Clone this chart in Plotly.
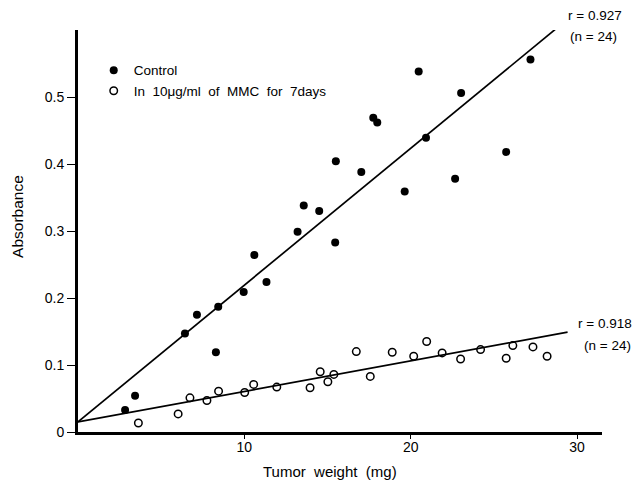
import plotly.graph_objects as go

# Control (filled circles)
control_x = [2.83, 3.43, 6.43, 7.15, 8.43, 8.29, 9.96, 10.6, 11.33, 13.2, 13.57, 14.5,
             15.46, 15.5, 17.03, 17.75, 17.99, 19.64, 20.48, 20.92, 22.67, 23.03, 25.74, 27.2]
control_y = [0.033, 0.054, 0.147, 0.175, 0.187, 0.119, 0.209, 0.264, 0.224, 0.299, 0.338, 0.330,
             0.283, 0.404, 0.388, 0.469, 0.462, 0.359, 0.538, 0.439, 0.378, 0.506, 0.418, 0.556]

# MMC (open circles)
mmc_x = [3.63, 6.02, 6.73, 7.75, 8.45, 10.02, 10.56, 11.95, 13.95, 14.56, 15.02, 15.38,
         16.73, 17.57, 18.89, 20.18, 20.96, 21.89, 23.0, 24.2, 25.74, 26.14, 27.35, 28.2]
mmc_y = [0.0135, 0.027, 0.051, 0.047, 0.061, 0.059, 0.071, 0.067, 0.066, 0.090, 0.075, 0.086,
         0.120, 0.083, 0.119, 0.113, 0.135, 0.118, 0.109, 0.123, 0.110, 0.129, 0.127, 0.113]

# Regression line endpoints
control_fit_x = [0.0, 28.84]
control_fit_y = [0.015, 0.604]
mmc_fit_x = [0.0, 29.43]
mmc_fit_y = [0.015, 0.149]

x_ticks = [10, 20, 30]
y_ticks = [0, 0.1, 0.2, 0.3, 0.4, 0.5]
y_tick_text = ["0", "0.1", "0.2", "0.3", "0.4", "0.5"]

FONT = "Liberation Sans, Arial, sans-serif"

fig = go.Figure()
fig.add_trace(go.Scatter(x=control_fit_x, y=control_fit_y, mode="lines",
                         line=dict(color="black", width=1.7), showlegend=False,
                         cliponaxis=False))
fig.add_trace(go.Scatter(x=mmc_fit_x, y=mmc_fit_y, mode="lines",
                         line=dict(color="black", width=1.7), showlegend=False,
                         cliponaxis=False))
fig.add_trace(go.Scatter(x=control_x, y=control_y, mode="markers", name="Control",
                         marker=dict(symbol="circle", size=8, color="black"),
                         cliponaxis=False))
fig.add_trace(go.Scatter(x=mmc_x, y=mmc_y, mode="markers",
                         name="In  10\u03bcg/ml  of  MMC  for  7days",
                         marker=dict(symbol="circle-open", size=7.5, color="black",
                                     line=dict(width=1.5)),
                         cliponaxis=False))

annots = [
    dict(text="r = 0.927", x=0.931, y=1.037, xanchor="left", yanchor="middle"),
    dict(text="(n = 24)", x=0.936, y=0.983, xanchor="left", yanchor="middle"),
    dict(text="r = 0.918", x=0.95, y=0.2687, xanchor="left", yanchor="middle"),
    dict(text="(n = 24)", x=0.962, y=0.214, xanchor="left", yanchor="middle"),
]
for a in annots:
    fig.add_annotation(xref="paper", yref="paper", showarrow=False,
                       font=dict(family=FONT, size=13.5, color="black"), **a)

# axis titles
fig.add_annotation(xref="paper", yref="paper", showarrow=False, text="Tumor  weight  (mg)",
                   x=0.481, y=-0.0995, xanchor="center", yanchor="middle",
                   font=dict(family=FONT, size=15, color="black"))
fig.add_annotation(xref="paper", yref="paper", showarrow=False, text="Absorbance",
                   x=-0.1145, y=0.535, xanchor="center", yanchor="middle", textangle=-90,
                   font=dict(family=FONT, size=15.5, color="black"))

fig.update_layout(
    width=637, height=486,
    margin=dict(l=78, r=35, t=30, b=54),
    paper_bgcolor="white", plot_bgcolor="white",
    font=dict(family=FONT, size=13, color="black"),
    legend=dict(x=0.03, y=0.938, xanchor="left", yanchor="top",
                bgcolor="rgba(0,0,0,0)", font=dict(size=13.5),
                itemwidth=30, tracegroupgap=0),
    xaxis=dict(range=[0, 31.5], tickvals=x_ticks, showgrid=False, zeroline=False,
               showline=True, linecolor="black", linewidth=3,
               ticks="outside", ticklen=4, tickwidth=1.2, tickcolor="black",
               tickfont=dict(size=14), ticklabelstandoff=-4),
    yaxis=dict(range=[0, 0.6], tickvals=y_ticks, ticktext=y_tick_text,
               showgrid=False, zeroline=False,
               showline=True, linecolor="black", linewidth=3,
               ticks="outside", ticklen=8, tickwidth=1.2, tickcolor="black",
               tickfont=dict(size=14)),
)

fig.write_html("out.html")
